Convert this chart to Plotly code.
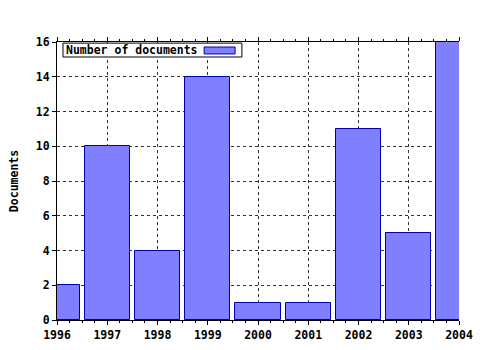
import plotly.graph_objects as go

years = [1996, 1997, 1998, 1999, 2000, 2001, 2002, 2003, 2004]
documents = [2, 10, 4, 14, 1, 1, 11, 5, 16]
series_name = "Number of documents"
y_title = "Documents"

FONT = dict(family="DejaVu Sans Mono", size=11.5, color="black", weight="bold")
BAR_FILL = "#8080ff"
BAR_LINE = "#0000a8"

fig = go.Figure()
fig.add_trace(go.Bar(
    x=years, y=documents, width=0.9,
    marker=dict(color=BAR_FILL, line=dict(color=BAR_LINE, width=1)),
    showlegend=False, name=series_name,
))

fig.update_layout(
    width=480, height=350,
    margin=dict(l=57, r=21, t=42, b=30, autoexpand=False),
    paper_bgcolor="white", plot_bgcolor="white",
    font=FONT,
    bargap=0,
    xaxis=dict(
        range=[1996, 2004], tickmode="linear", tick0=1996, dtick=1,
        showline=True, linecolor="black", linewidth=1, mirror="ticks",
        ticks="outside", ticklen=4, tickcolor="black",
        minor=dict(dtick=0.25, ticks="outside", ticklen=2, tickcolor="black", showgrid=False),
        showgrid=True, gridcolor="#333333", griddash="dot", gridwidth=1,
        zeroline=False, tickfont=FONT, automargin=False,
    ),
    yaxis=dict(
        range=[0, 16], tickmode="linear", tick0=0, dtick=2,
        showline=True, linecolor="black", linewidth=1,
        ticks="outside", ticklen=4, tickcolor="black",
        showgrid=True, gridcolor="#333333", griddash="dot", gridwidth=1,
        zeroline=False, tickfont=FONT, automargin=False,
        title=dict(text=y_title, font=FONT, standoff=14),
    ),
)

# Legend (gnuplot style: text then swatch on the right)
fig.add_shape(type="rect", xref="paper", yref="paper",
              x0=0.0149, x1=0.460, y0=0.946, y1=0.996,
              fillcolor="white", line=dict(color="black", width=1), layer="above")
fig.add_shape(type="rect", xref="paper", yref="paper",
              x0=0.366, x1=0.443, y0=0.957, y1=0.982,
              fillcolor=BAR_FILL, line=dict(color=BAR_LINE, width=1), layer="above")
fig.add_annotation(xref="paper", yref="paper", x=0.017, y=0.971,
                   xanchor="left", yanchor="middle", text=series_name,
                   showarrow=False, font=FONT)

fig.write_html("out.html")
